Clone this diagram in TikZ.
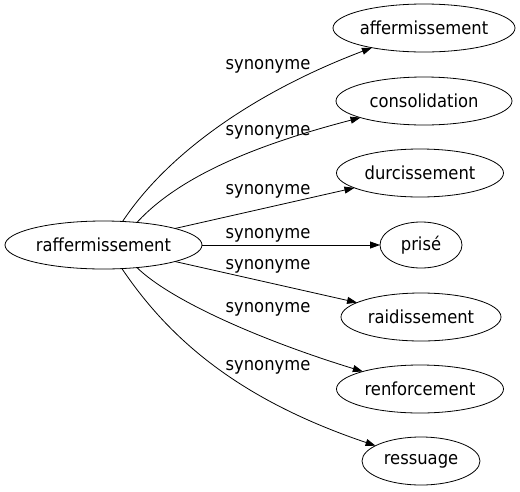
\documentclass[tikz,border=0pt]{standalone}
\usepackage{fontspec}
\setmainfont{DejaVu Sans}[FakeStretch=0.91]
\usetikzlibrary{arrows.meta,shapes.geometric}
\begin{document}
\begin{tikzpicture}[x=1pt,y=-1pt,
  nd/.style={draw,ellipse,inner sep=0pt,outer sep=0pt,minimum height=48pt,line width=0.8pt,font=\fontsize{18}{20}\selectfont},
  lbl/.style={inner sep=0pt,font=\fontsize{18}{20}\selectfont},
  arr/.style={line width=0.8pt,-{Triangle[length=10pt,width=7pt]}}]
\useasboundingbox (0,0) rectangle (520,491);
\node[nd,minimum width=197pt] (raf) at (103.5,245) {raffermissement};
\node[nd,minimum width=182pt] (aff) at (424,28) {affermissement};
\node[nd,minimum width=176pt] (con) at (424,101) {consolidation};
\node[nd,minimum width=167pt] (dur) at (420,173) {durcissement};
\node[nd,minimum width=82pt,minimum height=46pt] (pri) at (421,245) {prisé};
\node[nd,minimum width=160pt] (rai) at (421,317) {raidissement};
\node[nd,minimum width=167pt] (ren) at (420,389) {renforcement};
\node[nd,minimum width=118pt] (res) at (421,461) {ressuage};
\draw[arr] (raf.51) .. controls (170,150) and (260,90) .. (aff);
\draw[arr] (raf.34) .. controls (185,170) and (275,140) .. (con);
\draw[arr] (raf.13) -- (dur);
\draw[arr] (raf) -- (pri);
\draw[arr] (raf.-13) -- (rai);
\draw[arr] (raf.-34) .. controls (170,300) and (260,340) .. (ren);
\draw[arr] (raf.-52) .. controls (170,340) and (240,400) .. (res);
\node[lbl] (l1) at (268,66) {synonyme};
\node[lbl] (l2) at (268,132) {synonyme};
\node[lbl] (l3) at (268,191) {synonyme};
\node[lbl] (l4) at (268,235) {synonyme};
\node[lbl] (l5) at (268,266) {synonyme};
\node[lbl] (l6) at (268,309) {synonyme};
\node[lbl] (l7) at (268,367) {synonyme};
\end{tikzpicture}
\end{document}
